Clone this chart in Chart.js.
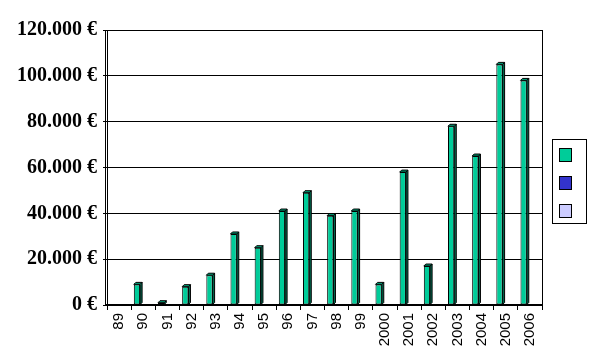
<!DOCTYPE html>
<html>
<head>
<meta charset="utf-8">
<title>Umsatz</title>
<script src="https://cdn.jsdelivr.net/npm/chart.js@4.4.0/dist/chart.umd.min.js"></script>
<style>
    body { margin: 0; background: #fff; }
    #wrap { width: 595px; height: 362px; }
</style>
</head>
<body>
<div id="wrap"><canvas id="salesChart" width="595" height="362"></canvas></div>
<script>
// Chart data
const years = ['89', '90', '91', '92', '93', '94', '95', '96', '97', '98', '99',
    '2000', '2001', '2002', '2003', '2004', '2005', '2006'];
const seriesA = [0, 9000, 1000, 8000, 13000, 31000, 25000, 41000, 49000, 39000, 41000,
    9000, 58000, 17000, 78000, 65000, 105000, 98000];
const seriesB = [];
const seriesC = [];
const yTicks = [0, 20000, 40000, 60000, 80000, 100000, 120000];

const colors = ['#00CC99', '#3333CC', '#CCCCFF'];

function euro(v) {
    return String(v).replace(/\B(?=(\d{3})+(?!\d))/g, '.') + ' €';
}

// 3D-ish side and top faces, plot border and the label-less legend
const excelLook = {
    id: 'excelLook',
    afterDatasetsDraw(chart) {
        const ctx = chart.ctx;
        const meta = chart.getDatasetMeta(0);
        const d = 2;
        ctx.save();
        ctx.lineWidth = 1;
        ctx.strokeStyle = '#000';
        meta.data.forEach(function(bar, i) {
            if (!seriesA[i]) return;
            const p = bar.getProps(['x', 'y', 'base', 'width'], true);
            const l = p.x - p.width / 2, r = p.x + p.width / 2;
            // right face
            ctx.fillStyle = '#006B50';
            ctx.beginPath();
            ctx.moveTo(r, p.y);
            ctx.lineTo(r + d, p.y - d);
            ctx.lineTo(r + d, p.base - d);
            ctx.lineTo(r, p.base);
            ctx.closePath();
            ctx.fill();
            ctx.stroke();
            // top face
            ctx.fillStyle = '#00A37A';
            ctx.beginPath();
            ctx.moveTo(l, p.y);
            ctx.lineTo(l + d, p.y - d);
            ctx.lineTo(r + d, p.y - d);
            ctx.lineTo(r, p.y);
            ctx.closePath();
            ctx.fill();
            ctx.stroke();
        });
        ctx.restore();
    },
    afterDraw(chart) {
        const ctx = chart.ctx;
        const a = chart.chartArea;
        ctx.save();
        ctx.strokeStyle = '#000';
        ctx.lineWidth = 1;
        ctx.strokeRect(a.left + 0.5, a.top + 0.5, a.right - a.left, a.bottom - a.top);
        // wall edge
        ctx.beginPath();
        ctx.moveTo(a.left - 1.5, a.top);
        ctx.lineTo(a.left - 1.5, a.bottom);
        ctx.stroke();

        // legend box
        const boxW = 34, boxH = 84;
        const bx = a.right + 10.5;
        const by = Math.round(chart.height / 2 - boxH / 2) + 0.5;
        ctx.fillStyle = '#fff';
        ctx.fillRect(bx, by, boxW, boxH);
        ctx.strokeRect(bx, by, boxW, boxH);
        colors.forEach(function(c, i) {
            const sx = bx + 7, sy = by + 9 + i * 28;
            ctx.fillStyle = c;
            ctx.fillRect(sx, sy, 12, 13);
            ctx.strokeRect(sx, sy, 12, 13);
        });
        ctx.restore();
    }
};

new Chart(document.getElementById('salesChart').getContext('2d'), {
    type: 'bar',
    data: {
        labels: years,
        datasets: [{
            label: '',
            data: seriesA,
            backgroundColor: colors[0],
            borderColor: '#000',
            borderWidth: 1,
            borderSkipped: false
        }, {
            label: '',
            data: seriesB,
            backgroundColor: colors[1],
            borderColor: '#000',
            borderWidth: 1
        }, {
            label: '',
            data: seriesC,
            backgroundColor: colors[2],
            borderColor: '#000',
            borderWidth: 1
        }]
    },
    options: {
        responsive: false,
        animation: false,
        categoryPercentage: 0.78,
        barPercentage: 1,
        layout: {
            padding: { top: 30, right: 53, left: 0, bottom: 0 }
        },
        plugins: {
            legend: { display: false },
            tooltip: { enabled: false }
        },
        scales: {
            x: {
                offset: true,
                grid: {
                    offset: true,
                    drawOnChartArea: false,
                    drawTicks: true,
                    tickLength: 5,
                    color: '#000'
                },
                border: { color: '#000', width: 2 },
                ticks: {
                    autoSkip: false,
                    minRotation: 90,
                    maxRotation: 90,
                    padding: 3,
                    color: '#000',
                    font: { family: '"Liberation Sans", Arial, sans-serif', size: 15 }
                },
                afterFit(scale) { scale.height = 57; }
            },
            y: {
                min: 0,
                max: 120000,
                afterBuildTicks(scale) {
                    scale.ticks = yTicks.map(function(v) { return { value: v }; });
                },
                grid: {
                    color: '#000',
                    lineWidth: 1,
                    tickLength: 4
                },
                border: { color: '#000', width: 1 },
                ticks: {
                    padding: 6,
                    color: '#000',
                    font: { family: '"Liberation Serif", "Times New Roman", serif', size: 20, weight: 'bold' },
                    callback: function(v) { return euro(v); }
                },
                afterFit(scale) { scale.width = 107; }
            }
        }
    },
    plugins: [excelLook]
});
</script>
</body>
</html>
